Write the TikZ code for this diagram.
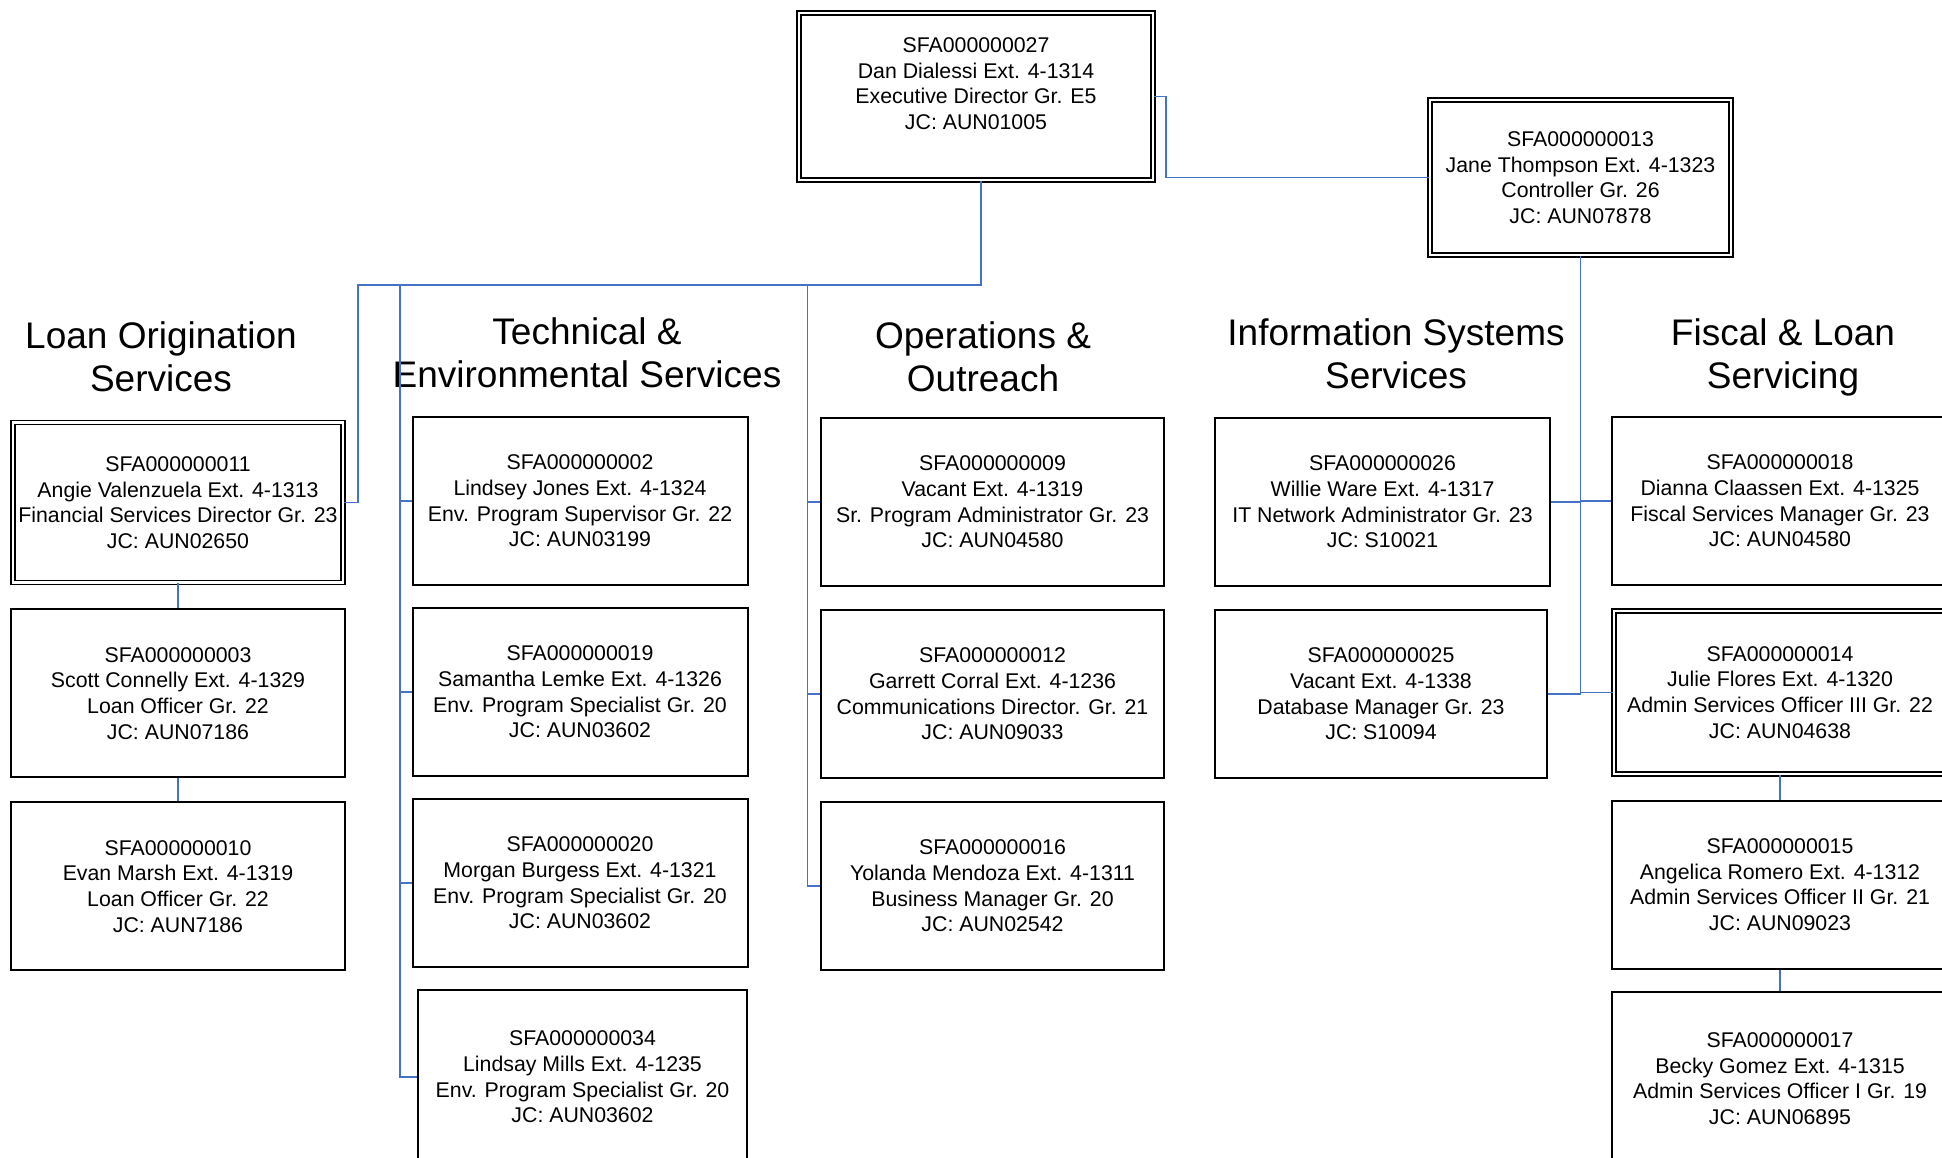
\documentclass[tikz,border=0pt]{standalone}
\usepackage{fontspec}
\setmainfont{Liberation Sans}
\usetikzlibrary{positioning}
\definecolor{linkblue}{HTML}{4472C4}

\begin{document}
\begin{tikzpicture}[
        x=1pt, y=-1pt,
        node distance=21pt,
        unit/.style={rectangle, draw=black, line width=2pt, minimum width=335pt, minimum height=168pt, align=center, inner sep=0pt, font=\fontsize{21.3}{25.6}\selectfont},
        lead/.style={unit, double, line width=1.7pt, double distance=2.4pt},
        head/.style={align=center, inner sep=0pt, font=\fontsize{37}{43}\selectfont},
        link/.style={draw=linkblue, line width=1.6pt}
    ]
    \useasboundingbox (0,0) rectangle (1942,1158);

    % Executive level
    \node[lead, minimum width=354pt, minimum height=167pt] (dir) at (976,96.5) {SFA000000027\\Dan Dialessi Ext. 4-1314\\Executive Director Gr. E5\\JC: AUN01005\\ \mbox{}};
    \node[lead, minimum width=301pt, minimum height=155pt] (ctrl) at (1580.5,177.5) {SFA000000013\\Jane Thompson Ext. 4-1323\\Controller Gr. 26\\JC: AUN07878};

    % Section headings
    \node[head] (hloan) at (161,357) {Loan Origination\\Services};
    \node[head] (htech) at (587,353) {Technical \&\\Environmental Services};
    \node[head] (hops) at (983,357) {Operations \&\\Outreach};
    \node[head] (his) at (1396,354) {Information Systems\\Services};
    \node[head] (hfisc) at (1783,357) {Fiscal \& Loan\\Servicing};

    % Loan Origination Services
    \node[lead, minimum width=330pt, minimum height=160pt] (angie) at (178,502.5) {SFA000000011\\Angie Valenzuela Ext. 4-1313\\Financial Services Director Gr. 23\\JC: AUN02650};
    \node[unit, minimum width=334pt, below=25pt of angie] (scott) {SFA000000003\\Scott Connelly Ext. 4-1329\\Loan Officer Gr. 22\\JC: AUN07186};
    \node[unit, minimum width=334pt, below=23pt of scott] (evan) {SFA000000010\\Evan Marsh Ext. 4-1319\\Loan Officer Gr. 22\\JC: AUN7186};

    % Technical & Environmental Services
    \node[unit] (lindsey) at (580,501) {SFA000000002\\Lindsey Jones Ext. 4-1324\\Env. Program Supervisor Gr. 22\\JC: AUN03199};
    \node[unit, below=of lindsey] (samantha) {SFA000000019\\Samantha Lemke Ext. 4-1326\\Env. Program Specialist Gr. 20\\JC: AUN03602};
    \node[unit, below=of samantha] (morgan) {SFA000000020\\Morgan Burgess Ext. 4-1321\\Env. Program Specialist Gr. 20\\JC: AUN03602};
    \node[unit, minimum width=329pt, minimum height=174pt, below=of morgan, xshift=2.5pt] (mills) {SFA000000034\\Lindsay Mills Ext. 4-1235\\Env. Program Specialist Gr. 20\\JC: AUN03602};

    % Operations & Outreach
    \node[unit, minimum width=343pt] (opsvac) at (992.5,502) {SFA000000009\\Vacant Ext. 4-1319\\Sr. Program Administrator Gr. 23\\JC: AUN04580};
    \node[unit, minimum width=343pt, below=22pt of opsvac] (garrett) {SFA000000012\\Garrett Corral Ext. 4-1236\\Communications Director. Gr. 21\\JC: AUN09033};
    \node[unit, minimum width=343pt, below=22pt of garrett] (yolanda) {SFA000000016\\Yolanda Mendoza Ext. 4-1311\\Business Manager Gr. 20\\JC: AUN02542};

    % Information Systems Services
    \node[unit] (willie) at (1382.5,502) {SFA000000026\\Willie Ware Ext. 4-1317\\IT Network Administrator Gr. 23\\JC: S10021};
    \node[unit, minimum width=332pt, below=22pt of willie, xshift=-1.5pt] (isvac) {SFA000000025\\Vacant Ext. 4-1338\\Database Manager Gr. 23\\JC: S10094};

    % Fiscal & Loan Servicing
    \node[unit, minimum width=336pt] (dianna) at (1780,501) {SFA000000018\\Dianna Claassen Ext. 4-1325\\Fiscal Services Manager Gr. 23\\JC: AUN04580};
    \node[lead, minimum width=332pt, minimum height=163pt, below=24pt of dianna] (julie) {SFA000000014\\Julie Flores Ext. 4-1320\\Admin Services Officer III Gr. 22\\JC: AUN04638};
    \node[unit, minimum width=336pt, below=25pt of julie] (angelica) {SFA000000015\\Angelica Romero Ext. 4-1312\\Admin Services Officer II Gr. 21\\JC: AUN09023};
    \node[unit, minimum width=336pt, minimum height=174pt, below=of angelica] (becky) {SFA000000017\\Becky Gomez Ext. 4-1315\\Admin Services Officer I Gr. 19\\JC: AUN06895};

    % Connections
    \coordinate (busL) at (358,285);
    \coordinate (busT) at (400,285);
    \coordinate (busO) at (807.5,285);
    \draw[link] (dir.east) -- ++(12,0) |- (ctrl.west);
    \draw[link] ([xshift=5pt]dir.south) |- (busL) |- (angie.east);
    \draw[link] (busT) |- (lindsey.west);
    \draw[link] (busT) |- (samantha.west);
    \draw[link] (busT) |- (morgan.west);
    \draw[link] (busT) |- (mills.west);
    \draw[link] (busO) |- (opsvac.west);
    \draw[link] (busO) |- (garrett.west);
    \draw[link] (busO) |- (yolanda.west);
    \draw[link] (ctrl.south) |- (willie.east);
    \draw[link] (ctrl.south) |- (isvac.east);
    \draw[link] (ctrl.south) |- (dianna.west);
    \draw[link] (ctrl.south) |- (julie.west);
    \draw[link] (angie) -- (scott);
    \draw[link] (scott) -- (evan);
    \draw[link] (julie) -- (angelica);
    \draw[link] (angelica) -- (becky);

\end{tikzpicture}
\end{document}
